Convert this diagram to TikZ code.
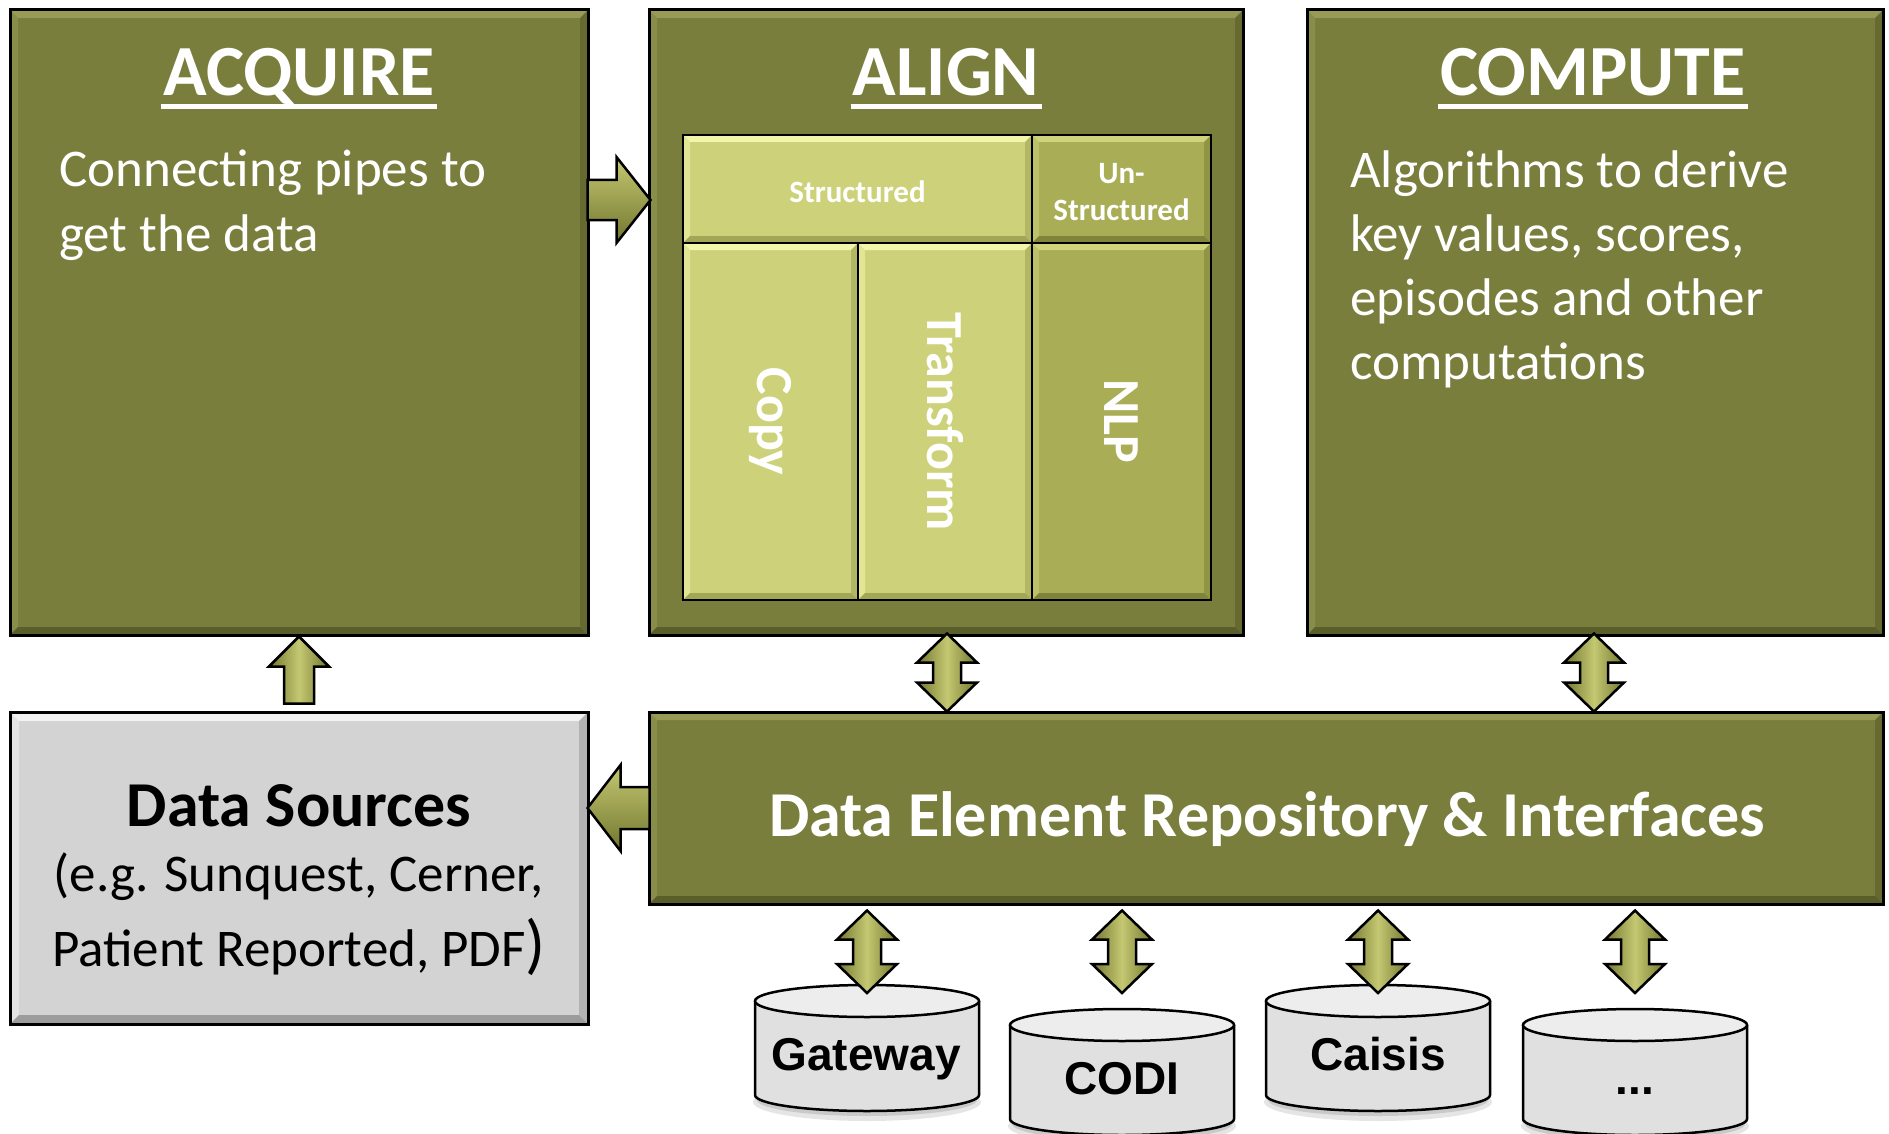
\documentclass[tikz,border=0pt]{standalone}
\usepackage{fontspec}
\setmainfont{Carlito}
\newfontfamily\arialfont{Liberation Sans}
\usetikzlibrary{calc}

\definecolor{boxgreen}{HTML}{7A7E3D}
\definecolor{boxgreenL}{HTML}{979B56}
\definecolor{boxgreenD}{HTML}{5A5E2A}
\definecolor{cellA}{HTML}{CDD27A}
\definecolor{cellAL}{HTML}{F2F5AA}
\definecolor{cellAD}{HTML}{A2A657}
\definecolor{cellB}{HTML}{A9AD55}
\definecolor{cellBL}{HTML}{CFD37C}
\definecolor{cellBD}{HTML}{80843A}
\definecolor{dsgray}{HTML}{D3D3D3}
\definecolor{dsgrayL}{HTML}{F2F2F2}
\definecolor{dsgrayD}{HTML}{9C9C9C}
\definecolor{arrL}{HTML}{C4C871}
\definecolor{arrD}{HTML}{72762F}
\definecolor{cylbody}{HTML}{E0E0E0}
\definecolor{cyltop}{HTML}{EDEDED}

\tikzset{
  bevel/.style n args={3}{path picture={
    \path (path picture bounding box.north west) coordinate (bNW)
          (path picture bounding box.north east) coordinate (bNE)
          (path picture bounding box.south west) coordinate (bSW)
          (path picture bounding box.south east) coordinate (bSE);
    \fill[#2] (bNW) -- (bNE) -- ([shift={(-#1,-#1)}]bNE) -- ([shift={(#1,-#1)}]bNW) -- cycle;
    \fill[#2,opacity=.55] (bNW) -- ([shift={(#1,-#1)}]bNW) -- ([shift={(#1,#1)}]bSW) -- (bSW) -- cycle;
    \fill[#3] (bSW) -- ([shift={(#1,#1)}]bSW) -- ([shift={(-#1,#1)}]bSE) -- (bSE) -- cycle;
    \fill[#3,opacity=.6] (bNE) -- ([shift={(-#1,-#1)}]bNE) -- ([shift={(-#1,#1)}]bSE) -- (bSE) -- cycle;
  }},
  gbox/.style={draw=black, line width=3pt, fill=boxgreen, inner sep=0pt,
    bevel={8pt}{boxgreenL}{boxgreenD}},
  cellastyle/.style={draw=black, line width=2.5pt, fill=cellA, inner sep=0pt,
    bevel={7pt}{cellAL}{cellAD}},
  cellbstyle/.style={draw=black, line width=2.5pt, fill=cellB, inner sep=0pt,
    bevel={7pt}{cellBL}{cellBD}},
  dsbox/.style={draw=black, line width=3pt, fill=dsgray, inner sep=0pt,
    bevel={9pt}{dsgrayL}{dsgrayD}},
  titletext/.style={text=white, inner sep=0pt, font=\bfseries\fontsize{72}{72}\selectfont},
  uline/.style={draw=white, line width=5pt},
  bodytext/.style={text=white, inner sep=0pt, align=left, font=\fontsize{53}{64}\selectfont},
  celltext/.style={text=white, inner sep=0pt, align=center, font=\bfseries\fontsize{31}{37}\selectfont},
  vtext/.style={text=white, inner sep=0pt, rotate=-90, font=\bfseries\fontsize{52}{52}\selectfont},
  dsbold/.style={text=black, inner sep=0pt, font=\bfseries\fontsize{64}{64}\selectfont},
  dsreg/.style={text=black, inner sep=0pt, font=\fontsize{53}{53}\selectfont},
  dertext/.style={text=white, inner sep=0pt, font=\bfseries\fontsize{64}{64}\selectfont},
  cyltext/.style={text=black, inner sep=0pt, font=\arialfont\bfseries\fontsize{46}{46}\selectfont},
  cylline/.style={draw=black, line width=2.5pt},
  arrstyle/.style={draw=black, line width=2.5pt, line join=miter},
  varrow/.style={arrstyle, left color=arrD, right color=arrD, middle color=arrL},
  harrow/.style={arrstyle, top color=arrL, bottom color=arrD},
}

\newcommand\dblarrow[2]{%
  \draw[varrow] (#1) -- ($(#1)+(30,29)$) -- ($(#1)+(14,29)$) -- ($(#2)+(14,-29)$)
    -- ($(#2)+(30,-29)$) -- (#2) -- ($(#2)+(-30,-29)$) -- ($(#2)+(-14,-29)$)
    -- ($(#1)+(-14,29)$) -- ($(#1)+(-30,29)$) -- cycle;}

\newcommand\drawcyl[2]{%
  \fill[black,opacity=.10] ({#1},{#2+101}) ellipse [x radius=114pt, y radius=19pt];
  \fill[black,opacity=.12] ({#1},{#2+99}) ellipse [x radius=110pt, y radius=16pt];
  \fill[cylbody] ({#1-112},{#2}) -- ({#1-112},{#2+94})
    arc[start angle=180, end angle=360, x radius=112pt, y radius=16pt] -- ({#1+112},{#2}) -- cycle;
  \draw[cylline] ({#1-112},{#2}) -- ({#1-112},{#2+94})
    arc[start angle=180, end angle=360, x radius=112pt, y radius=16pt] -- ({#1+112},{#2});
  \draw[cylline, fill=cyltop] ({#1},{#2}) ellipse [x radius=112pt, y radius=16pt];}

\begin{document}
\begin{tikzpicture}[x=1pt,y=-1pt]
\useasboundingbox (0,0) rectangle (1889,1134);
\fill[white] (0,0) rectangle (1889,1134);

% main boxes
\node[gbox, minimum width=578pt, minimum height=625pt] (acq) at (299,322.5) {};
\node[gbox, minimum width=594pt, minimum height=625pt] (align) at (946,322.5) {};
\node[gbox, minimum width=576pt, minimum height=625pt] (comp) at (1595,322.5) {};
\node[dsbox, minimum width=578pt, minimum height=312pt] (ds) at (299,868) {};
\node[gbox, minimum width=1234pt, minimum height=192pt] (der) at (1266,808) {};

% titles
\node[titletext, anchor=base] (acqT) at (299,96) {ACQUIRE};
\node[titletext, anchor=base] (alignT) at (946,96) {ALIGN};
\node[titletext, anchor=base] (compT) at (1593,96) {COMPUTE};
\foreach \t in {acqT,alignT,compT}{
  \draw[uline] ($(\t.base west)+(-2,11)$) -- ($(\t.base east)+(2,11)$);
}

% body texts (base anchor = baseline of last line)
\node[bodytext, anchor=base west] (acqB) at (59,251) {Connecting pipes to\\get the data};
\node[bodytext, anchor=base west] (compB) at (1350,379) {Algorithms to derive\\key values, scores,\\episodes and other\\computations};

% align cells
\node[cellastyle, minimum width=349pt, minimum height=108pt] (str) at (857.5,189) {};
\node[cellbstyle, minimum width=179pt, minimum height=108pt] (ustr) at (1121.5,189) {};
\node[cellastyle, minimum width=175pt, minimum height=357pt] (copy) at (770.5,421.5) {};
\node[cellastyle, minimum width=174pt, minimum height=357pt] (trans) at (945,421.5) {};
\node[cellbstyle, minimum width=179pt, minimum height=357pt] (nlp) at (1121.5,421.5) {};
\node[celltext] (strT) at ($(str)+(0,3)$) {Structured};
\node[celltext] (ustrT) at ($(ustr)+(0,3)$) {Un-\\Structured};
\node[vtext] (copyT) at (copy) {Copy};
\node[vtext] (transT) at (trans) {Transform};
\node[vtext] (nlpT) at (nlp) {NLP};

% data sources text
\node[dsbold, anchor=base] (dsT1) at (299,826) {Data Sources};
\node[dsreg, anchor=base] (dsT2) at (299,891) {(e.g. Sunquest, Cerner,};
\node[dsreg, anchor=base] (dsT3) at (299,966) {Patient Reported, PDF{\fontsize{66}{66}\selectfont)}};

% DER text
\node[dertext, anchor=base] (derT) at (1267,836) {Data Element Repository \& Interfaces};

% cylinders
\drawcyl{867}{1001}
\drawcyl{1122}{1025}
\drawcyl{1378}{1001}
\drawcyl{1635}{1025}
\node[cyltext, anchor=base] (gwT) at (866,1070) {Gateway};
\node[cyltext, anchor=base] (codiT) at (1122,1094) {CODI};
\node[cyltext, anchor=base] (caisT) at (1378,1070) {Caisis};
\node[cyltext, anchor=base] (dotsT) at (1635,1094) {...};
\coordinate (gwtop) at (867,993);
\coordinate (coditop) at (1122,993);
\coordinate (caistop) at (1378,993);
\coordinate (dotstop) at (1635,993);

% arrow: acquire -> align
\coordinate (ra1) at ($(acq.east |- 0,200)+(-2,0)$);
\coordinate (ra2) at ($(align.west |- ra1)+(3,0)$);
\draw[harrow] ($(ra1)+(0,-20)$) -- ($(ra2)+(-34,-20)$) -- ($(ra2)+(-34,-43)$) -- (ra2)
  -- ($(ra2)+(-34,43)$) -- ($(ra2)+(-34,20)$) -- ($(ra1)+(0,20)$) -- cycle;

% arrow: DER -> data sources
\coordinate (la2) at ($(ds.east |- 0,808)+(-2,0)$);
\coordinate (la1) at ($(der.west |- la2)+(2,0)$);
\draw[harrow] ($(la1)+(0,-21)$) -- ($(la2)+(33,-21)$) -- ($(la2)+(33,-43)$) -- (la2)
  -- ($(la2)+(33,43)$) -- ($(la2)+(33,21)$) -- ($(la1)+(0,21)$) -- cycle;

% arrow: data sources -> acquire
\coordinate (ua2) at (acq.south);
\coordinate (ua1) at ($(ds.north)+(0,-7)$);
\draw[varrow] (ua2) -- ($(ua2)+(30,30)$) -- ($(ua2)+(15,30)$) -- ($(ua1)+(15,0)$)
  -- ($(ua1)+(-15,0)$) -- ($(ua2)+(-15,30)$) -- ($(ua2)+(-30,30)$) -- cycle;

% double arrows align/compute <-> DER
\coordinate (d1t) at ($(align.south)+(1,-3)$);
\coordinate (d1b) at ($(d1t |- der.north)+(0,1)$);
\dblarrow{d1t}{d1b}
\coordinate (d2t) at ($(comp.south)+(-1,-3)$);
\coordinate (d2b) at ($(d2t |- der.north)+(0,1)$);
\dblarrow{d2t}{d2b}

% double arrows DER <-> databases
\foreach \c in {gwtop,coditop,caistop,dotstop}{
  \coordinate (\c A) at ($(\c |- der.south)+(0,5)$);
  \dblarrow{\c A}{\c}
}
\end{tikzpicture}
\end{document}
